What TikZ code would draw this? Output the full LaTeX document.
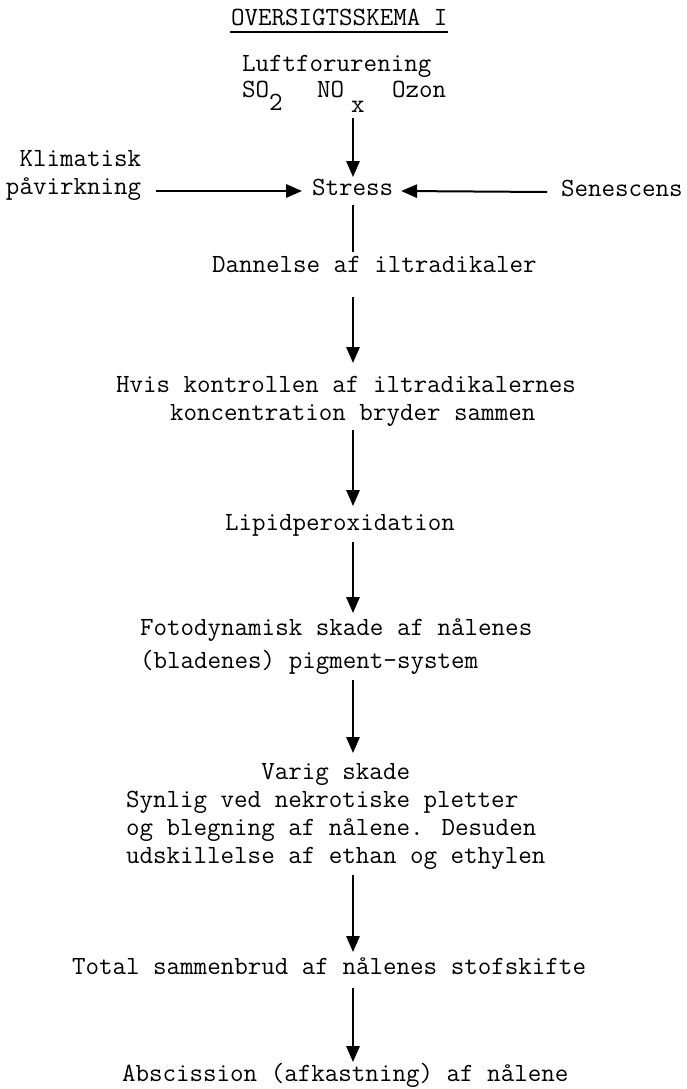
\documentclass[tikz,border=0pt]{standalone}
\usepackage{fontspec}
\usetikzlibrary{arrows.meta,calc}
\newcommand\typesz{\ttfamily\fontsize{19.7}{21}\selectfont}
% empty typewriter character cells, used for indents
\newcommand\cells[1]{\hphantom{#1}}
\tikzset{
  txt/.style={anchor=base west, inner sep=0pt, outer sep=0pt, font=\typesz},
  arr/.style={line width=1.5pt, -{Triangle[length=12pt,width=10pt]}},
  plain/.style={line width=1.5pt}
}
\begin{document}
\begin{tikzpicture}[x=0.75pt,y=-0.75pt]
\useasboundingbox (0,0) rectangle (686,1089);
\coordinate (ax) at (353,0);

% heading
\node[txt] (title) at (231,25) {OVERSIGTSSKEMA I};
\draw[line width=1pt] ($(title.base west)+(-1,7)$) -- ($(title.base east)+(1,7)$);

% sources of stress
\node[txt] (luft) at (242,71) {Luftforurening};
\node[txt] (so) at (242,97) {SO\lower9.75pt\hbox{2}};
\node[txt] (nox) at (317,97) {NO\hspace{5.25pt}\lower11.25pt\hbox{x}};
\node[txt] (ozon) at (392,97) {Ozon};
\node[txt] (klim) at (6,166) {\begin{tabular}[t]{@{}r@{}}Klimatisk\\påvirkning\end{tabular}};
\node[txt] (stress) at (312,195) {Stress};
\node[txt] (sen) at (561,196) {Senescens};

% chain of damage
\node[txt] (dann) at (212,272) {Dannelse af iltradikaler};
\node[txt] (hvis) at (116,392) {\begin{tabular}[t]{@{}l@{}}Hvis kontrollen af iltradikalernes\\\cells{0000}koncentration bryder sammen\end{tabular}};
\node[txt] (lipid) at (225,530) {Lipidperoxidation};
\node[txt] (foto) at (140,635) {\begin{tabular}[t]{@{}l@{}}Fotodynamisk skade af nålenes\\[3.75pt](bladenes) pigment-system\end{tabular}};
\node[txt] (varig) at (126,779) {\begin{tabular}[t]{@{}l@{}}\cells{0000000000}Varig skade\\Synlig ved nekrotiske pletter\\og blegning af nålene. Desuden\\udskillelse af ethan og ethylen\end{tabular}};
\node[txt] (total) at (72,974) {Total sammenbrud af nålenes stofskifte};
\node[txt] (absc) at (122,1081) {Abscission (afkastning) af nålene};

% connectors
\draw[arr] ($(nox.base -| ax)+(0,21)$) -- ($(stress.base -| ax)+(0,-18)$);
\draw[arr] ($(klim.east |- stress.base)+(15,-4)$) -- ($(stress.base west)+(-10,-4)$);
\draw[arr] ($(sen.base west)+(-14,-4)$) -- ($(stress.base east)+(8,-4)$);
\draw[plain] ($(stress.base -| ax)+(0,10)$) -- ($(dann.base -| ax)+(0,-20)$);
\draw[arr] ($(dann.base -| ax)+(0,25)$) -- ($(hvis.base -| ax)+(0,-29)$);
\draw[arr] ($(hvis.base -| ax)+(0,38)$) -- ($(lipid.base -| ax)+(0,-24)$);
\draw[arr] ($(lipid.base -| ax)+(0,12)$) -- ($(foto.base -| ax)+(0,-22)$);
\draw[arr] ($(foto.base -| ax)+(0,45)$) -- ($(varig.base -| ax)+(0,-26)$);
\draw[arr] ($(varig.base -| ax)+(0,96)$) -- ($(total.base -| ax)+(0,-22)$);
\draw[arr] ($(total.base -| ax)+(0,14)$) -- ($(absc.base -| ax)+(0,-19)$);
\end{tikzpicture}
\end{document}
